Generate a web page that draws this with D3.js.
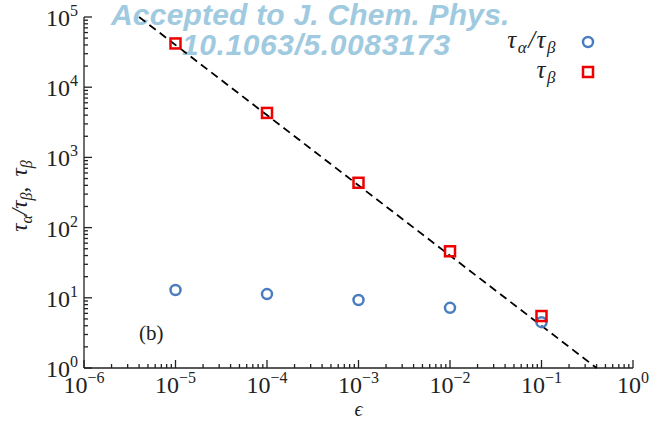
<!DOCTYPE html>
<html>
<head>
<meta charset="utf-8">
<script src="https://cdn.jsdelivr.net/npm/d3@7"></script>
<style>
  body { margin: 0; background: #fff; }
  svg { display: block; }
</style>
</head>
<body>
<script>
// eps values and the two series
var epsValues = [1e-5, 1e-4, 1e-3, 1e-2, 1e-1];
var ratioValues = [12.9, 11.3, 9.3, 7.2, 4.5];      // tau_alpha / tau_beta
var tauBetaValues = [42000, 4300, 435, 46, 5.5];    // tau_beta
var fitEps = [4e-6, 0.4];                           // dashed 1/eps guide
var fitAmp = 0.4;
var xTickExps = [-6, -5, -4, -3, -2, -1, 0];
var yTickExps = [0, 1, 2, 3, 4, 5];

var width = 653, height = 425;
var margin = {left: 84, right: 20, top: 17, bottom: 57};

var svg = d3.select('body').append('svg')
  .attr('width', width).attr('height', height);

var x = d3.scaleLog().domain([1e-6, 1]).range([margin.left, width - margin.right]);
var y = d3.scaleLog().domain([1, 1e5]).range([height - margin.bottom, margin.top]);

var serif = '"Liberation Serif", "DejaVu Serif", serif';

// watermark
var wm = svg.append('g')
  .attr('font-family', '"Liberation Sans", Arial, sans-serif')
  .attr('font-weight', 'bold').attr('font-style', 'italic')
  .attr('font-size', 30).attr('fill', '#9fcae0');
wm.append('text').attr('x', 111).attr('y', 25).attr('letter-spacing', 0.2)
  .text('Accepted to J. Chem. Phys.');
wm.append('text').attr('x', 182).attr('y', 55).attr('letter-spacing', 0.6)
  .text('10.1063/5.0083173');

// minor ticks
function minorTicks(lo, hi) {
  var out = [];
  for (var e = lo; e < hi; e++) {
    for (var k = 2; k <= 9; k++) out.push(k * Math.pow(10, e));
  }
  return out;
}

var axisG = svg.append('g').attr('stroke', '#222').attr('stroke-width', 1.3);
var x0 = x.range()[0], y0 = y.range()[0];

axisG.append('line').attr('x1', x0).attr('x2', x.range()[1]).attr('y1', y0).attr('y2', y0);
axisG.append('line').attr('x1', x0).attr('x2', x0).attr('y1', y0).attr('y2', y.range()[1]);

axisG.selectAll('.xmaj').data(xTickExps).enter().append('line')
  .attr('x1', function(d) { return x(Math.pow(10, d)); })
  .attr('x2', function(d) { return x(Math.pow(10, d)); })
  .attr('y1', y0).attr('y2', y0 - 8);
axisG.selectAll('.xmin').data(minorTicks(-6, 0)).enter().append('line')
  .attr('x1', function(d) { return x(d); })
  .attr('x2', function(d) { return x(d); })
  .attr('y1', y0).attr('y2', y0 - 4);

axisG.selectAll('.ymaj').data(yTickExps).enter().append('line')
  .attr('y1', function(d) { return y(Math.pow(10, d)); })
  .attr('y2', function(d) { return y(Math.pow(10, d)); })
  .attr('x1', x0).attr('x2', x0 + 8);
axisG.selectAll('.ymin').data(minorTicks(0, 5)).enter().append('line')
  .attr('y1', function(d) { return y(d); })
  .attr('y2', function(d) { return y(d); })
  .attr('x1', x0).attr('x2', x0 + 4);

// tick labels
function powLabel(sel, e) {
  sel.append('tspan').text('10');
  sel.append('tspan').attr('dy', -10).attr('font-size', 16)
    .text(e < 0 ? '\u2212' + (-e) : String(e));
}

svg.selectAll('.xl').data(xTickExps).enter().append('text')
  .attr('x', function(d) { return x(Math.pow(10, d)); })
  .attr('y', 393)
  .attr('text-anchor', 'middle')
  .attr('font-family', serif).attr('font-size', 24).attr('fill', '#222')
  .each(function(d) { powLabel(d3.select(this), d); });

svg.selectAll('.yl').data(yTickExps).enter().append('text')
  .attr('x', 78)
  .attr('y', function(d) { return y(Math.pow(10, d)) + 9; })
  .attr('text-anchor', 'end')
  .attr('font-family', serif).attr('font-size', 24).attr('fill', '#222')
  .each(function(d) { powLabel(d3.select(this), d); });

// math-ish label helper: tau_a / tau_b style runs
function tauText(sel, parts) {
  parts.forEach(function(p) {
    var t = sel.append('tspan').text(p[0]);
    if (p[1]) t.attr('dy', p[1]);
    if (p[2]) t.attr('font-size', p[2]);
    if (p[3]) t.attr('font-style', p[3]);
  });
}

// axis titles
svg.append('text').attr('x', x(1e-3)).attr('y', 416)
  .attr('text-anchor', 'middle').attr('font-family', serif).attr('font-style', 'italic')
  .attr('font-size', 20).attr('fill', '#222').text('\u03f5');

var yt = svg.append('text')
  .attr('transform', 'translate(27,196) rotate(-90)')
  .attr('text-anchor', 'middle').attr('font-family', serif).attr('font-style', 'italic')
  .attr('font-size', 23).attr('fill', '#222');
tauText(yt, [['\u03c4'], ['\u03b1', 5, 16], ['/\u03c4', -5], ['\u03b2', 5, 16],
  [',\u2009 ', -5, null, 'normal'], ['\u03c4'], ['\u03b2', 5, 16]]);

svg.append('text').attr('x', 139).attr('y', 340)
  .attr('font-family', serif).attr('font-size', 21).attr('fill', '#222').text('(b)');

// dashed guide
svg.append('path')
  .datum(fitEps)
  .attr('d', d3.line()
    .x(function(d) { return x(d); })
    .y(function(d) { return y(fitAmp / d); }))
  .attr('fill', 'none').attr('stroke', '#000').attr('stroke-width', 1.8)
  .attr('stroke-dasharray', '8,5');

var blue = '#4a7dc0', red = '#ee0000';

svg.selectAll('.circ').data(epsValues).enter().append('circle')
  .attr('cx', function(d) { return x(d); })
  .attr('cy', function(d, i) { return y(ratioValues[i]); })
  .attr('r', 5).attr('fill', 'none').attr('stroke', blue).attr('stroke-width', 2.5);

svg.selectAll('.sq').data(epsValues).enter().append('rect')
  .attr('x', function(d) { return x(d) - 5; })
  .attr('y', function(d, i) { return y(tauBetaValues[i]) - 5; })
  .attr('width', 10).attr('height', 10)
  .attr('fill', 'none').attr('stroke', red).attr('stroke-width', 2.5);

// legend
var leg = svg.append('g').attr('font-family', serif).attr('font-style', 'italic')
  .attr('font-size', 25).attr('fill', '#222');
var l1 = leg.append('text').attr('x', 557).attr('y', 48).attr('text-anchor', 'end')
  .attr('letter-spacing', 1.5);
tauText(l1, [['\u03c4'], ['\u03b1', 5, 17], ['/\u03c4', -5], ['\u03b2', 5, 17]]);
var l2 = leg.append('text').attr('x', 557).attr('y', 78).attr('text-anchor', 'end')
  .attr('letter-spacing', 1.5);
tauText(l2, [['\u03c4'], ['\u03b2', 5, 17]]);

svg.append('circle').attr('cx', 588).attr('cy', 42).attr('r', 5)
  .attr('fill', 'none').attr('stroke', blue).attr('stroke-width', 2.5);
svg.append('rect').attr('x', 583).attr('y', 67).attr('width', 10).attr('height', 10)
  .attr('fill', 'none').attr('stroke', red).attr('stroke-width', 2.5);
</script>
</body>
</html>
